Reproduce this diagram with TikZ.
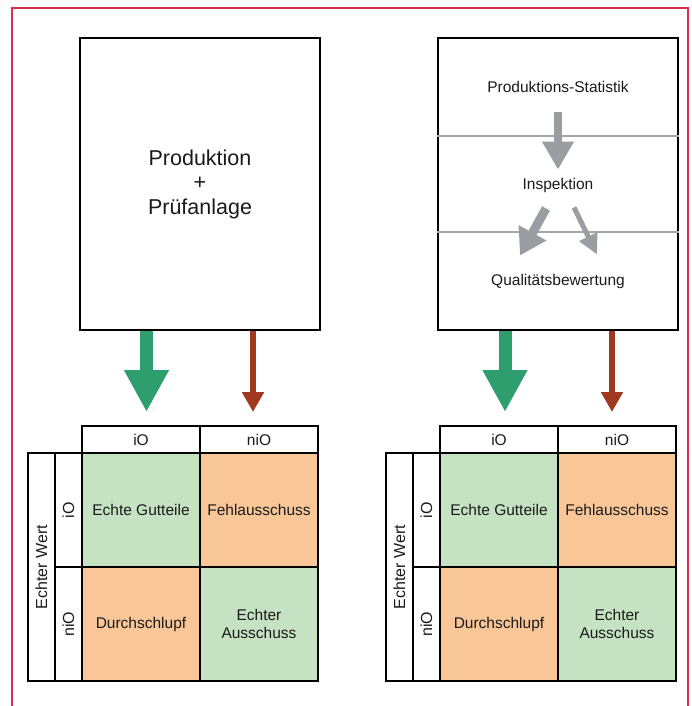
\documentclass[tikz,border=0pt]{standalone}
\usepackage{fontspec}
\setmainfont{Liberation Sans}
\usetikzlibrary{arrows.meta, positioning, calc}

\definecolor{frameRed}{HTML}{D6304C}
\definecolor{okGreen}{HTML}{2E9E6E}
\definecolor{nokRed}{HTML}{A0391F}
\definecolor{okFill}{HTML}{C5E3C3}
\definecolor{nokFill}{HTML}{F9C797}
\definecolor{flowGray}{HTML}{9A9DA1}
\definecolor{txt}{HTML}{1A1A1A}

\begin{document}
\begin{tikzpicture}[
			x=1pt, y=-1pt,
			bigbox/.style={rectangle, draw=black, line width=2.5pt, minimum width=240pt, minimum height=292pt, inner sep=0pt, align=center, font=\fontsize{21.5}{24.5}\selectfont, text=txt},
			tag/.style={inner sep=0pt, font=\fontsize{15.5}{18}\selectfont, text=txt},
			sepline/.style={draw=gray!70, line width=1.2pt},
			flowarrow/.style={draw=flowGray, line width=8pt, -{Triangle[length=28pt, width=30pt]}},
			goodarrow/.style={draw=okGreen, line width=13pt, -{Triangle[length=42pt, width=42pt]}, shorten >=13pt},
			badarrow/.style={draw=nokRed, line width=6pt, -{Triangle[length=20pt, width=21pt]}, shorten >=13pt},
			head/.style={rectangle, draw=black, line width=2pt, minimum width=118pt, minimum height=27pt, inner sep=0pt, font=\fontsize{15.5}{18}\selectfont, text=txt},
			cell/.style={rectangle, draw=black, line width=2pt, minimum width=118pt, minimum height=114pt, inner sep=0pt, align=center, font=\fontsize{15.5}{18}\selectfont, text=txt},
			side/.style={rectangle, draw=black, line width=2pt, rotate=90, minimum width=114pt, minimum height=27pt, inner sep=0pt, font=\fontsize{16}{18}\selectfont, text=txt}
			]
			
			\useasboundingbox (0,0) rectangle (692,706);
			
			% Frame
			\draw[frameRed, line width=2pt] (12,706) -- (12,8) -- (688,8) -- (688,706);
			
			% Upper boxes
			\node[bigbox] (prod) at (200,184) {Produktion\\+\\Prüfanlage};
			\node[bigbox] (qual) at (558,184) {};
			
			\draw[sepline] (qual.west |- 0,136) -- (qual.east |- 0,136);
			\draw[sepline] (qual.west |- 0,232) -- (qual.east |- 0,232);
			
			\node[tag] (stat) at (558,87) {Produktions-Statistik};
			\node[tag] (insp) at (558,185) {Inspektion};
			\node[tag] (qbew) at (558,281) {Qualitätsbewertung};
			
			% Gray flow arrows
			\draw[flowarrow, shorten <=19pt, shorten >=8pt] (stat) -- (insp);
			\draw[flowarrow, line width=9pt, -{Triangle[length=26pt, width=30pt]}] ($(insp.south)+(-12,16)$) -- ($(qbew.north)+(-38,-18)$);
			\draw[flowarrow, line width=5pt, -{Triangle[length=20pt, width=19pt]}] ($(insp.south)+(16,15)$) -- ($(qbew.north)+(39,-19)$);
			
			% Confusion matrices
			\foreach \dx/\t in {0/L, 358/R} {
				\node[head] (io\t) at (141+\dx,439.5) {iO};
				\node[head] (nio\t) at (259+\dx,439.5) {niO};
				\node[cell, fill=okFill] (tp\t) at (141+\dx,510) {Echte Gutteile};
				\node[cell, fill=nokFill] (fp\t) at (259+\dx,510) {Fehlausschuss};
				\node[cell, fill=nokFill] (fn\t) at (141+\dx,624) {Durchschlupf};
				\node[cell, fill=okFill] (tn\t) at (259+\dx,624) {Echter\\Ausschuss};
				\node[side] (rio\t) at (68.5+\dx,510) {iO};
				\node[side] (rnio\t) at (68.5+\dx,624) {niO};
				\node[side, minimum width=228pt] (real\t) at (41.5+\dx,567) {Echter Wert};
			}
			
			% Arrows into the matrices
			\coordinate (gL) at ($(prod.south)+(-53.5,0)$);
			\coordinate (bL) at ($(prod.south)+(53,0)$);
			\coordinate (gR) at ($(qual.south)+(-53,0)$);
			\coordinate (bR) at ($(qual.south)+(54,0)$);
			\draw[goodarrow] (gL) -- (gL |- ioL.north);
			\draw[badarrow] (bL) -- (bL |- nioL.north);
			\draw[goodarrow] (gR) -- (gR |- ioR.north);
			\draw[badarrow] (bR) -- (bR |- nioR.north);
			
		\end{tikzpicture}
\end{document}
